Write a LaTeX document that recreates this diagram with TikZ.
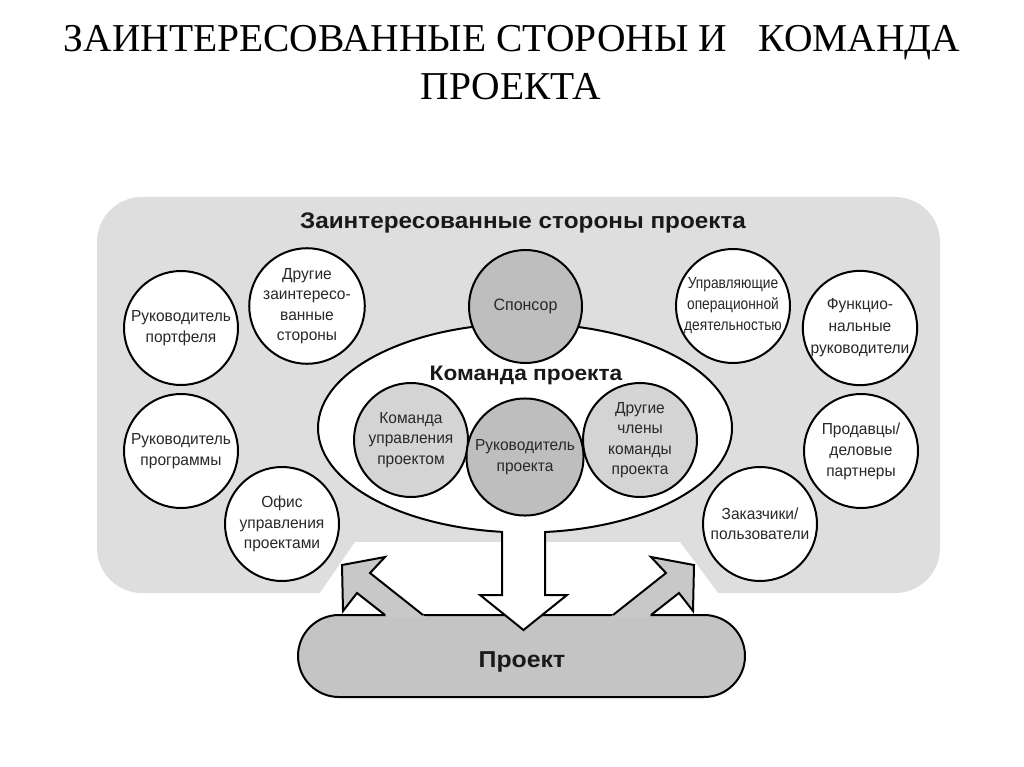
\documentclass[tikz,border=0pt]{standalone}
\usepackage{fontspec}
\setmainfont{Liberation Serif}
\newfontfamily\sans[FakeStretch=0.97]{Liberation Sans}
\newfontfamily\sanswide[FakeStretch=1.08]{Liberation Sans}
\newfontfamily\sanscond[FakeStretch=0.86]{Liberation Sans}
\usetikzlibrary{shapes.geometric}
\definecolor{panelgray}{RGB}{222,222,222}
\definecolor{lightcirc}{RGB}{212,212,212}
\definecolor{darkcirc}{RGB}{190,190,190}
\definecolor{arrowgray}{RGB}{200,200,200}
\definecolor{projgray}{RGB}{196,196,196}
\definecolor{txt}{RGB}{40,40,40}
\newcommand\ctext{\sans\fontsize{16}{20.5}\selectfont}
\newcommand\ctextc{\sanscond\fontsize{16}{21}\selectfont}
\tikzset{
  circ/.style={circle, draw=black, line width=2pt, minimum size=114pt, inner sep=0pt,
    align=center, font=\ctext, text=txt, fill=white},
  outl/.style={draw=black, line width=2pt, line join=miter},
  bold label/.style={anchor=base, text=black!90, inner sep=0},
}
\begin{document}
\begin{tikzpicture}[x=1pt,y=-1pt]
\useasboundingbox[fill=white] (0,0) rectangle (1024,767);
% title
\node[anchor=base, font=\fontsize{39.5}{48}\selectfont, inner sep=0] (t1) at (512,52)
  {ЗАИНТЕРЕСОВАННЫЕ СТОРОНЫ И\hspace{0.8em}КОМАНДА};
\node[anchor=base, font=\fontsize{39.5}{48}\selectfont, inner sep=0] (t2) at (511,100) {ПРОЕКТА};
% panel
\fill[panelgray, rounded corners=45pt] (97,197) rectangle (940,593);
\fill[white] (320,596) -- (320,593) -- (355,542) -- (680,542) -- (718,593) -- (718,596) -- cycle;
\node[bold label, font=\sanswide\bfseries\fontsize{22.5}{26}\selectfont] (head) at (523,229)
  {Заинтересованные стороны проекта};
% project shape
\node[outl, fill=projgray, rounded corners=41pt, minimum width=447pt, minimum height=82pt, inner sep=0] (proj) at (521.5,656) {};
% left gray arrow
\fill[arrowgray] (388.8,618) -- (357,593) -- (343,611) -- (342,565) -- (385,557) -- (370,573) -- (426.8,618) -- cycle;
\draw[outl] (385,615) -- (357,593) -- (343,611) -- (342,565) -- (385,557) -- (370,573) -- (423,615);
% right gray arrow (mirrored about x=518)
\fill[arrowgray] (647.2,618) -- (679,593) -- (693,611) -- (694,565) -- (651,557) -- (666,573) -- (609.2,618) -- cycle;
\draw[outl] (651,615) -- (679,593) -- (693,611) -- (694,565) -- (651,557) -- (666,573) -- (613,615);
% team ellipse
\node[ellipse, outl, fill=white, minimum width=414pt, minimum height=209pt, inner sep=0] (team) at (525,428) {};
% down arrow
\fill[white] (502,520) -- (502,595) -- (480,595) -- (523.5,630) -- (567,595) -- (545,595) -- (545,520) -- cycle;
\draw[outl] (502,531) -- (502,595) -- (480,595) -- (523.5,630) -- (567,595) -- (545,595) -- (545,531);
\node[bold label, font=\sanswide\bfseries\fontsize{23}{26}\selectfont] (projlabel) at (522,667) {Проект};
% sponsor
\node[circ, fill=darkcirc, minimum size=113pt, font=\sans\fontsize{16.5}{20}\selectfont] (sp) at (525.5,306.5) {\raisebox{-3pt}{Спонсор}};
\node[bold label, font=\sanswide\bfseries\fontsize{21}{24}\selectfont] (teamlabel) at (526,380) {Команда проекта};
% inner circles
\node[circ, fill=lightcirc] (pmt) at (411,440) {Команда\\управления\\проектом};
\node[circ, fill=lightcirc] (ot) at (640,440) {Другие\\члены\\команды\\проекта};
\node[circ, fill=darkcirc] (pm) at (525,457) {\raisebox{-7pt}{\parbox{112pt}{\centering Руководитель\\проекта}}};
% outer circles
\node[circ] (p1) at (181,328) {Руководитель\\портфеля};
\node[circ] (p2) at (307,306) {Другие\\заинтересо-\\ванные\\стороны};
\node[circ, font=\ctextc] (op) at (733,306) {Управляющие\\операционной\\деятельностью};
\node[circ, font=\sans\fontsize{16}{22}\selectfont] (fr) at (860,328) {Функцио-\\нальные\\руководители};
\node[circ, font=\sans\fontsize{16}{21}\selectfont] (vp) at (861,451) {Продавцы/\\деловые\\партнеры};
\node[circ] (pg) at (181,451) {Руководитель\\программы};
\node[circ] (pmo) at (282,524) {Офис\\управления\\проектами};
\node[circ] (cu) at (760,524) {Заказчики/\\пользователи};
\end{tikzpicture}
\end{document}
